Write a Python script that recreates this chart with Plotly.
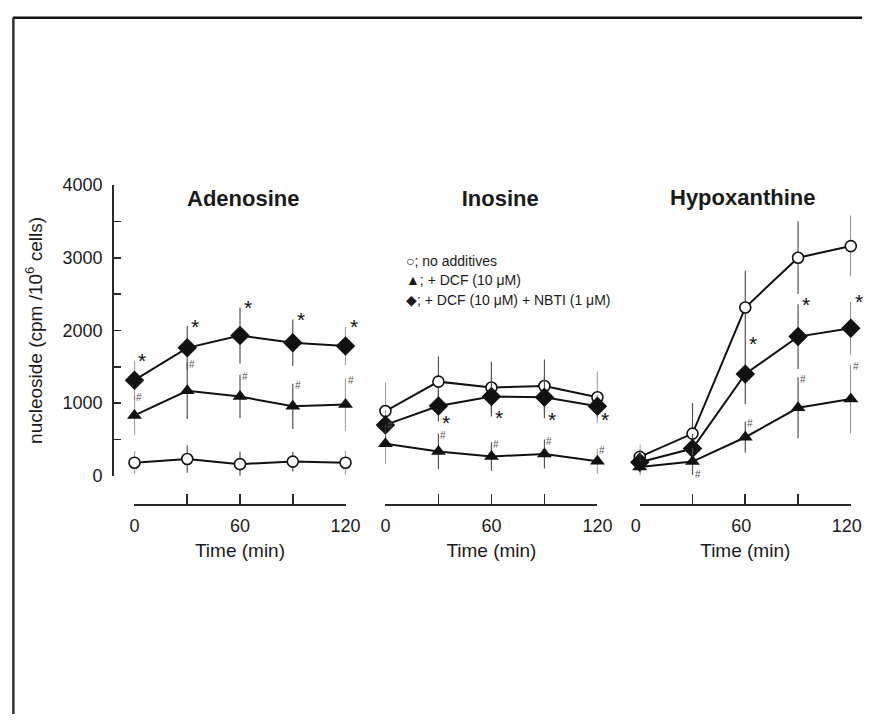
import plotly.graph_objects as go

W, H = 877, 724

# ---------------- data ----------------
time_min = [0, 30, 60, 90, 120]

panels = ["Adenosine", "Inosine", "Hypoxanthine"]

# no additives (open circles)
none_vals = {
    "Adenosine":    [180, 230, 160, 195, 180],
    "Inosine":      [890, 1295, 1215, 1235, 1080],
    "Hypoxanthine": [260, 580, 2315, 3000, 3160],
}
none_err = {
    "Adenosine":    [160, 190, 175, 135, 165],
    "Inosine":      [390, 345, 355, 365, 355],
    "Hypoxanthine": [170, 420, 505, 500, 420],
}
# + DCF (triangles)
dcf_vals = {
    "Adenosine":    [830, 1170, 1090, 955, 980],
    "Inosine":      [440, 335, 265, 300, 200],
    "Hypoxanthine": [120, 195, 530, 935, 1055],
}
dcf_err = {
    "Adenosine":    [270, 390, 300, 310, 360],
    "Inosine":      [275, 245, 195, 200, 175],
    "Hypoxanthine": [180, 185, 215, 420, 470],
}
# + DCF + NBTI (diamonds)
nbti_vals = {
    "Adenosine":    [1315, 1760, 1930, 1830, 1785],
    "Inosine":      [700, 960, 1090, 1080, 955],
    "Hypoxanthine": [185, 375, 1400, 1915, 2030],
}
nbti_err = {
    "Adenosine":    [270, 300, 385, 320, 265],
    "Inosine":      [200, 215, 275, 290, 165],
    "Hypoxanthine": [150, 200, 415, 445, 365],
}
# significance marks: 'u' = at upper end of error bar, 'd' = at lower end, '' = none
star_marks = {   # '*' on the NBTI series
    "Adenosine":    ["u", "u", "u", "u", "u"],
    "Inosine":      ["", "d", "d", "d", "d"],
    "Hypoxanthine": ["", "", "u", "u", "u"],
}
hash_marks = {   # '#' on the DCF series
    "Adenosine":    ["u", "u", "u", "u", "u"],
    "Inosine":      ["u", "u", "u", "u", "u"],
    "Hypoxanthine": ["", "d", "u", "u", "u"],
}

legend_lines = ["○; no additives", "▲; + DCF (10 μM)", "◆; + DCF (10 μM) + NBTI (1 μM)"]
y_ticks = [0, 1000, 2000, 3000, 4000]
x_tickvals = [0, 60, 120]
y_title = "nucleoside (cpm /10<sup>6</sup> cells)"
x_title = "Time (min)"

# ---------------- layout geometry (pixels) ----------------
x_dom_px = [(129, 346), (387, 605), (648.5, 865.5)]
title_px = [(241, 194), (505, 194), (754, 193)]
y_top_px, y_bot_px = 180, 479
xaxis_line_px = 509
yaxis_line_px = 107

FONT = "Liberation Sans, Arial, Helvetica, sans-serif"
AX = "#2a2a2a"
ERR = "#555555"
TXT = "#1a1a1a"

def px_x(p):
    return p / W

def px_y(p):
    return (H - p) / H

fig = go.Figure()

for i, name in enumerate(panels):
    xa = "x" if i == 0 else f"x{i+1}"
    ya = "y"
    common = dict(x=time_min, xaxis=xa, yaxis=ya, mode="lines+markers",
                  cliponaxis=False, showlegend=False, hoverinfo="skip",
                  line=dict(color="#111111", width=2))
    fig.add_trace(go.Scatter(
        y=none_vals[name],
        error_y=dict(type="data", array=none_err[name], width=0, thickness=1.2, color=ERR),
        marker=dict(symbol="circle", size=11, color="white", line=dict(color="#111111", width=1.6)),
        **common))
    fig.add_trace(go.Scatter(
        y=nbti_vals[name],
        error_y=dict(type="data", array=nbti_err[name], width=0, thickness=1.2, color=ERR),
        marker=dict(symbol="diamond", size=15, color="#111111", line=dict(width=0)),
        **common))
    fig.add_trace(go.Scatter(
        y=dcf_vals[name],
        error_y=dict(type="data", array=dcf_err[name], width=0, thickness=1.2, color=ERR),
        marker=dict(symbol="triangle-up", size=13, color="#111111", line=dict(width=0)),
        **common))

    # significance annotations
    for j, t in enumerate(time_min):
        m = star_marks[name][j]
        if m:
            v = nbti_vals[name][j] + (nbti_err[name][j] if m == "u" else -nbti_err[name][j])
            fig.add_annotation(x=t, y=v, xref=xa, yref=ya, text="*", showarrow=False,
                               font=dict(family=FONT, size=21, color="#111111"),
                               xanchor="center", yanchor="middle",
                               xshift=8, yshift=(0 if m == "u" else -1))
        m = hash_marks[name][j]
        if m:
            v = dcf_vals[name][j] + (dcf_err[name][j] if m == "u" else -dcf_err[name][j])
            fig.add_annotation(x=t, y=v, xref=xa, yref=ya, text="#", showarrow=False,
                               font=dict(family=FONT, size=10, color="#555555"),
                               xanchor="center", yanchor="middle",
                               xshift=5, yshift=(-2 if m == "u" else 1))

    # panel titles (middle one is the layout title)
    if i != 1:
        fig.add_annotation(x=px_x(title_px[i][0]), y=px_y(title_px[i][1]), xref="paper", yref="paper",
                           text=f"<b>{name}</b>", showarrow=False,
                           font=dict(family=FONT, size=22, color=TXT),
                           xanchor="center", yanchor="middle")

layout = dict(
    width=W, height=H, margin=dict(l=0, r=0, t=0, b=0),
    paper_bgcolor="white", plot_bgcolor="white", dragmode=False, hovermode=False,
    title=dict(text=f"<b>{panels[1]}</b>", x=px_x(title_px[1][0]), y=px_y(title_px[1][1]),
               xref="paper", yref="paper", xanchor="center", yanchor="middle",
               font=dict(family=FONT, size=22, color=TXT)),
)
for i in range(3):
    xk = "xaxis" if i == 0 else f"xaxis{i+1}"
    layout[xk] = dict(
        domain=[px_x(x_dom_px[i][0]), px_x(x_dom_px[i][1])],
        range=[0, 120], anchor="free", position=px_y(xaxis_line_px), fixedrange=True,
        showgrid=False, zeroline=False, showline=True, linecolor=AX, linewidth=2,
        ticks="inside", ticklen=10, tickwidth=1.6, tickcolor=AX,
        tickvals=x_tickvals, ticklabelstandoff=4,
        ticklabelshift=(-4 if i == 2 else 0),
        minor=dict(dtick=30, tick0=0, ticks="inside", ticklen=10, tickwidth=1.6, tickcolor=AX),
        tickfont=dict(family=FONT, size=18, color=TXT),
        title=dict(text=x_title, font=dict(family=FONT, size=19, color=TXT), standoff=8),
    )
layout["yaxis"] = dict(
    domain=[px_y(y_bot_px), px_y(y_top_px)], range=[0, 4000], fixedrange=True,
    showgrid=False, zeroline=False,
    anchor="free", position=px_x(yaxis_line_px),
    showline=True, linecolor=AX, linewidth=2,
    ticks="inside", ticklen=7, tickwidth=1.6, tickcolor=AX,
    tickvals=y_ticks, ticklabelstandoff=6,
    tickfont=dict(family=FONT, size=18, color=TXT),
    title=dict(text=y_title, font=dict(family=FONT, size=19, color=TXT), standoff=14),
    minor=dict(dtick=500, ticks="inside", ticklen=7, tickwidth=1.6, tickcolor=AX))

fig.update_layout(**layout)

# legend text
for k, line in enumerate(legend_lines):
    fig.add_annotation(x=px_x(406), y=px_y(258 + 20 * k), xref="paper", yref="paper",
                       text=line, showarrow=False,
                       font=dict(family=FONT, size=14, color=TXT),
                       xanchor="left", yanchor="middle")

# outer frame lines (top and left)
fig.add_shape(type="line", xref="paper", yref="paper", x0=px_x(4), x1=1, y0=px_y(8), y1=px_y(8),
              line=dict(color="#111111", width=2.5))
fig.add_shape(type="line", xref="paper", yref="paper", x0=px_x(4.5), x1=px_x(4.5), y0=px_y(8), y1=0,
              line=dict(color="#333333", width=2.5))

fig.write_html("out.html", config={"staticPlot": True, "displayModeBar": False})
